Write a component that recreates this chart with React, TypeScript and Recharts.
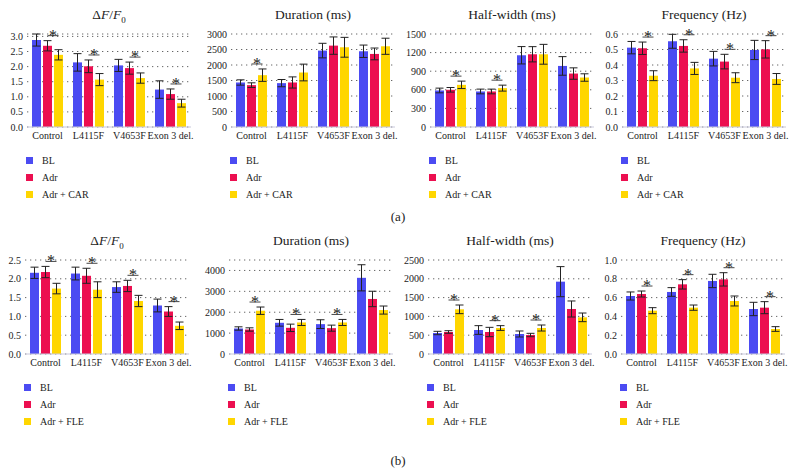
import type { ReactNode } from "react";
import { Bar, BarChart, CartesianGrid, ErrorBar, Legend, XAxis, YAxis } from "recharts";

const FONT = "'Liberation Serif', 'Times New Roman', 'DejaVu Serif', 'Noto Serif', serif";

const seriesColors = {
  bl: "#4b4bf2",
  adr: "#ec0f50",
  third: "#ffd600"
};

const categories = ["Control", "L4115F", "V4653F", "Exon 3 del."];

// (a) CAR experiments
const aDffBL = [2.88, 2.14, 2.04, 1.24];
const aDffBLErr = [0.2, 0.29, 0.2, 0.29];
const aDffAdr = [2.69, 2.01, 1.95, 1.09];
const aDffAdrErr = [0.17, 0.21, 0.2, 0.17];
const aDffCar = [2.39, 1.57, 1.62, 0.79];
const aDffCarErr = [0.17, 0.2, 0.17, 0.13];
const aDffSig = [true, true, true, true];
const aDffTicks = [0, 0.5, 1, 1.5, 2, 2.5, 3];

const aDurBL = [1436, 1415, 2465, 2443];
const aDurBLErr = [86, 117, 235, 200];
const aDurAdr = [1350, 1436, 2625, 2357];
const aDurAdrErr = [75, 180, 280, 190];
const aDurCar = [1672, 1758, 2572, 2604];
const aDurCarErr = [200, 270, 320, 260];
const aDurSig = [true, false, false, false];
const aDurTicks = [0, 500, 1000, 1500, 2000, 2500, 3000];

const aHwBL = [589, 573, 1157, 985];
const aHwBLErr = [38, 38, 140, 150];
const aHwAdr = [600, 573, 1173, 862];
const aHwAdrErr = [37, 38, 123, 92];
const aHwCar = [680, 627, 1173, 798];
const aHwCarErr = [60, 48, 160, 60];
const aHwSig = [true, true, false, false];
const aHwTicks = [0, 300, 600, 900, 1200, 1500];

const aFreqBL = [0.512, 0.553, 0.441, 0.497];
const aFreqBLErr = [0.04, 0.045, 0.047, 0.062];
const aFreqAdr = [0.508, 0.523, 0.422, 0.501];
const aFreqAdrErr = [0.04, 0.04, 0.047, 0.056];
const aFreqCar = [0.331, 0.378, 0.318, 0.31];
const aFreqCarErr = [0.032, 0.039, 0.032, 0.035];
const aFreqSig = [true, true, true, true];
const aFreqTicks = [0, 0.1, 0.2, 0.3, 0.4, 0.5, 0.6];

// (b) FLE experiments
const bDffBL = [2.16, 2.14, 1.78, 1.29];
const bDffBLErr = [0.15, 0.17, 0.14, 0.17];
const bDffAdr = [2.18, 2.08, 1.81, 1.13];
const bDffAdrErr = [0.15, 0.2, 0.15, 0.13];
const bDffFle = [1.74, 1.71, 1.41, 0.75];
const bDffFleErr = [0.14, 0.21, 0.15, 0.1];
const bDffSig = [true, true, true, true];
const bDffTicks = [0, 0.5, 1, 1.5, 2, 2.5];

const bDurBL = [1221, 1494, 1430, 3647];
const bDurBLErr = [80, 160, 209, 626];
const bDurAdr = [1173, 1253, 1237, 2635];
const bDurAdrErr = [80, 177, 145, 369];
const bDurFle = [2072, 1510, 1510, 2104];
const bDurFleErr = [177, 145, 145, 193];
const bDurSig = [true, true, true, false];
const bDurTicks = [0, 1000, 2000, 3000, 4000];

const bHwBL = [558, 638, 532, 1924];
const bHwBLErr = [45, 116, 80, 400];
const bHwAdr = [585, 585, 505, 1197];
const bHwAdrErr = [35, 124, 45, 213];
const bHwFle = [1188, 691, 691, 975];
const bHwFleErr = [115, 63, 80, 115];
const bHwSig = [true, true, true, false];
const bHwTicks = [0, 500, 1000, 1500, 2000, 2500];

const bFreqBL = [0.617, 0.66, 0.777, 0.479];
const bFreqBLErr = [0.043, 0.046, 0.071, 0.071];
const bFreqAdr = [0.638, 0.741, 0.794, 0.493];
const bFreqAdrErr = [0.032, 0.05, 0.071, 0.064];
const bFreqFle = [0.461, 0.493, 0.564, 0.266];
const bFreqFleErr = [0.032, 0.028, 0.053, 0.025];
const bFreqSig = [true, true, true, true];
const bFreqTicks = [0, 0.2, 0.4, 0.6, 0.8, 1];

type Row = {
  name: string;
  bl: number;
  blErr: number;
  adr: number;
  adrErr: number;
  third: number;
  thirdErr: number;
  sig: boolean;
};

function makeRows(
  bl: number[],
  blErr: number[],
  adr: number[],
  adrErr: number[],
  third: number[],
  thirdErr: number[],
  sig: boolean[]
): Row[] {
  return categories.map((name, i) => ({
    name,
    bl: bl[i],
    blErr: blErr[i],
    adr: adr[i],
    adrErr: adrErr[i],
    third: third[i],
    thirdErr: thirdErr[i],
    sig: sig[i]
  }));
}

const BAR_GAP = 2;
const PLOT_WIDTH = 164;
const Y_AXIS_WIDTH = 26;

// Adr bar plus the significance bracket between Adr and the third bar
function AdrShape(props: any) {
  const { x, y, width, height, fill, payload } = props;
  const rect = <rect x={x} y={y} width={width} height={height} fill={fill} />;
  if (!payload || !payload.sig) return rect;

  const unit = height / payload.adr;
  const base = y + height;
  const level = Math.max(payload.adr + payload.adrErr, payload.third + payload.thirdErr);
  const lineY = base - level * unit - 5;
  const x1 = x + width / 2;
  const x2 = x1 + width + BAR_GAP;

  return (
    <g>
      {rect}
      <line x1={x1} x2={x2} y1={lineY} y2={lineY} stroke="#444" strokeWidth={1} />
      <text
        x={(x1 + x2) / 2}
        y={lineY + 5}
        textAnchor="middle"
        fontSize={16}
        fill="#222"
        style={{ fontFamily: FONT }}
      >
        *
      </text>
    </g>
  );
}

const legendOrder = ["bl", "adr", "third"];

function LegendList({ payload }: any) {
  const items = [...(payload ?? [])].sort(
    (a: any, b: any) => legendOrder.indexOf(a.dataKey) - legendOrder.indexOf(b.dataKey)
  );

  return (
    <ul
      style={{
        listStyle: "none",
        margin: 0,
        padding: 0,
        fontFamily: FONT,
        fontSize: 10,
        color: "#222"
      }}
    >
      {items.map((entry: any) => (
        <li key={entry.dataKey} style={{ height: 17, display: "flex", alignItems: "center" }}>
          <span
            style={{
              display: "inline-block",
              width: 7,
              height: 7,
              background: entry.color,
              marginRight: 9
            }}
          />
          {entry.value}
        </li>
      ))}
    </ul>
  );
}

type PanelProps = {
  title: ReactNode;
  rows: Row[];
  ticks: number[];
  domainMax?: number;
  digits: number;
  thirdName: string;
  plotLeft: number;
  top: number;
  titleY: number;
  marginTop: number;
  marginBottom: number;
  legendTop: number;
};

const tickStyle = { fontSize: 10, fill: "#222", style: { fontFamily: FONT } };

function Panel({
  title,
  rows,
  ticks,
  domainMax,
  digits,
  thirdName,
  plotLeft,
  top,
  titleY,
  marginTop,
  marginBottom,
  legendTop
}: PanelProps) {
  const chartLeft = plotLeft - Y_AXIS_WIDTH;

  return (
    <>
      <div
        style={{
          position: "absolute",
          left: plotLeft,
          top: titleY - 9,
          width: PLOT_WIDTH,
          height: 18,
          lineHeight: "18px",
          textAlign: "center",
          fontFamily: FONT,
          fontSize: 13.5,
          color: "#222"
        }}
      >
        {title}
      </div>
      <div style={{ position: "absolute", left: chartLeft, top, fontFamily: FONT }}>
        <BarChart
          width={Y_AXIS_WIDTH + PLOT_WIDTH + 6}
          height={210}
          data={rows}
          margin={{ top: marginTop, right: 6, bottom: marginBottom, left: 0 }}
          barSize={9}
          barGap={BAR_GAP}
          style={{ fontFamily: FONT }}
        >
          <CartesianGrid vertical={false} stroke="#666" strokeDasharray="1.3 3.7" />
          <XAxis
            dataKey="name"
            interval={0}
            height={20}
            tickLine={false}
            tickSize={0}
            tickMargin={5}
            axisLine={{ stroke: "#c9c9dc" }}
            tick={tickStyle}
          />
          <YAxis
            width={Y_AXIS_WIDTH}
            ticks={ticks}
            domain={[0, domainMax ?? ticks[ticks.length - 1]]}
            interval={0}
            axisLine={false}
            tickLine={false}
            tickSize={0}
            tickMargin={4}
            tickFormatter={(v: number) => v.toFixed(digits)}
            tick={tickStyle}
          />
          <Legend
            layout="vertical"
            align="center"
            verticalAlign="middle"
            wrapperStyle={{ left: Y_AXIS_WIDTH - 1, top: legendTop, width: 120, height: 52 }}
            content={<LegendList />}
          />
          <Bar dataKey="bl" name="BL" fill={seriesColors.bl} isAnimationActive={false}>
            <ErrorBar dataKey="blErr" width={4} stroke="#222" strokeWidth={1} direction="y" />
          </Bar>
          <Bar
            dataKey="adr"
            name="Adr"
            fill={seriesColors.adr}
            shape={<AdrShape />}
            isAnimationActive={false}
          >
            <ErrorBar dataKey="adrErr" width={4} stroke="#222" strokeWidth={1} direction="y" />
          </Bar>
          <Bar dataKey="third" name={thirdName} fill={seriesColors.third} isAnimationActive={false}>
            <ErrorBar dataKey="thirdErr" width={4} stroke="#222" strokeWidth={1} direction="y" />
          </Bar>
        </BarChart>
      </div>
    </>
  );
}

const dffTitle = (
  <span>
    Δ<i>F</i>/<i>F</i>
    <sub style={{ fontSize: 9 }}>0</sub>
  </span>
);

export default function App() {
  const aRow = { top: 0, titleY: 15, marginTop: 34, marginBottom: 63, legendTop: 152, thirdName: "Adr + CAR" };
  const bRow = { top: 225, titleY: 241, marginTop: 35, marginBottom: 61, legendTop: 154, thirdName: "Adr + FLE" };

  return (
    <div
      style={{
        position: "absolute",
        left: 0,
        top: 0,
        width: 796,
        height: 473,
        background: "#fff",
        overflow: "hidden",
        fontFamily: FONT
      }}
    >
      <Panel
        {...aRow}
        title={dffTitle}
        rows={makeRows(aDffBL, aDffBLErr, aDffAdr, aDffAdrErr, aDffCar, aDffCarErr, aDffSig)}
        ticks={aDffTicks}
        digits={1}
        plotLeft={27}
      />
      <Panel
        {...aRow}
        title="Duration (ms)"
        rows={makeRows(aDurBL, aDurBLErr, aDurAdr, aDurAdrErr, aDurCar, aDurCarErr, aDurSig)}
        ticks={aDurTicks}
        digits={0}
        plotLeft={231}
      />
      <Panel
        {...aRow}
        title="Half-width (ms)"
        rows={makeRows(aHwBL, aHwBLErr, aHwAdr, aHwAdrErr, aHwCar, aHwCarErr, aHwSig)}
        ticks={aHwTicks}
        digits={0}
        plotLeft={430}
      />
      <Panel
        {...aRow}
        title="Frequency (Hz)"
        rows={makeRows(aFreqBL, aFreqBLErr, aFreqAdr, aFreqAdrErr, aFreqCar, aFreqCarErr, aFreqSig)}
        ticks={aFreqTicks}
        digits={1}
        plotLeft={622}
      />

      <Panel
        {...bRow}
        title={dffTitle}
        rows={makeRows(bDffBL, bDffBLErr, bDffAdr, bDffAdrErr, bDffFle, bDffFleErr, bDffSig)}
        ticks={bDffTicks}
        digits={1}
        plotLeft={25}
      />
      <Panel
        {...bRow}
        title="Duration (ms)"
        rows={makeRows(bDurBL, bDurBLErr, bDurAdr, bDurAdrErr, bDurFle, bDurFleErr, bDurSig)}
        ticks={bDurTicks}
        domainMax={4500}
        digits={0}
        plotLeft={229}
      />
      <Panel
        {...bRow}
        title="Half-width (ms)"
        rows={makeRows(bHwBL, bHwBLErr, bHwAdr, bHwAdrErr, bHwFle, bHwFleErr, bHwSig)}
        ticks={bHwTicks}
        digits={0}
        plotLeft={428}
      />
      <Panel
        {...bRow}
        title="Frequency (Hz)"
        rows={makeRows(bFreqBL, bFreqBLErr, bFreqAdr, bFreqAdrErr, bFreqFle, bFreqFleErr, bFreqSig)}
        ticks={bFreqTicks}
        digits={1}
        plotLeft={621}
      />

      <div style={{ position: "absolute", left: 380, top: 209, width: 36, textAlign: "center", fontSize: 13, color: "#222" }}>
        (a)
      </div>
      <div style={{ position: "absolute", left: 380, top: 453, width: 36, textAlign: "center", fontSize: 13, color: "#222" }}>
        (b)
      </div>
    </div>
  );
}
